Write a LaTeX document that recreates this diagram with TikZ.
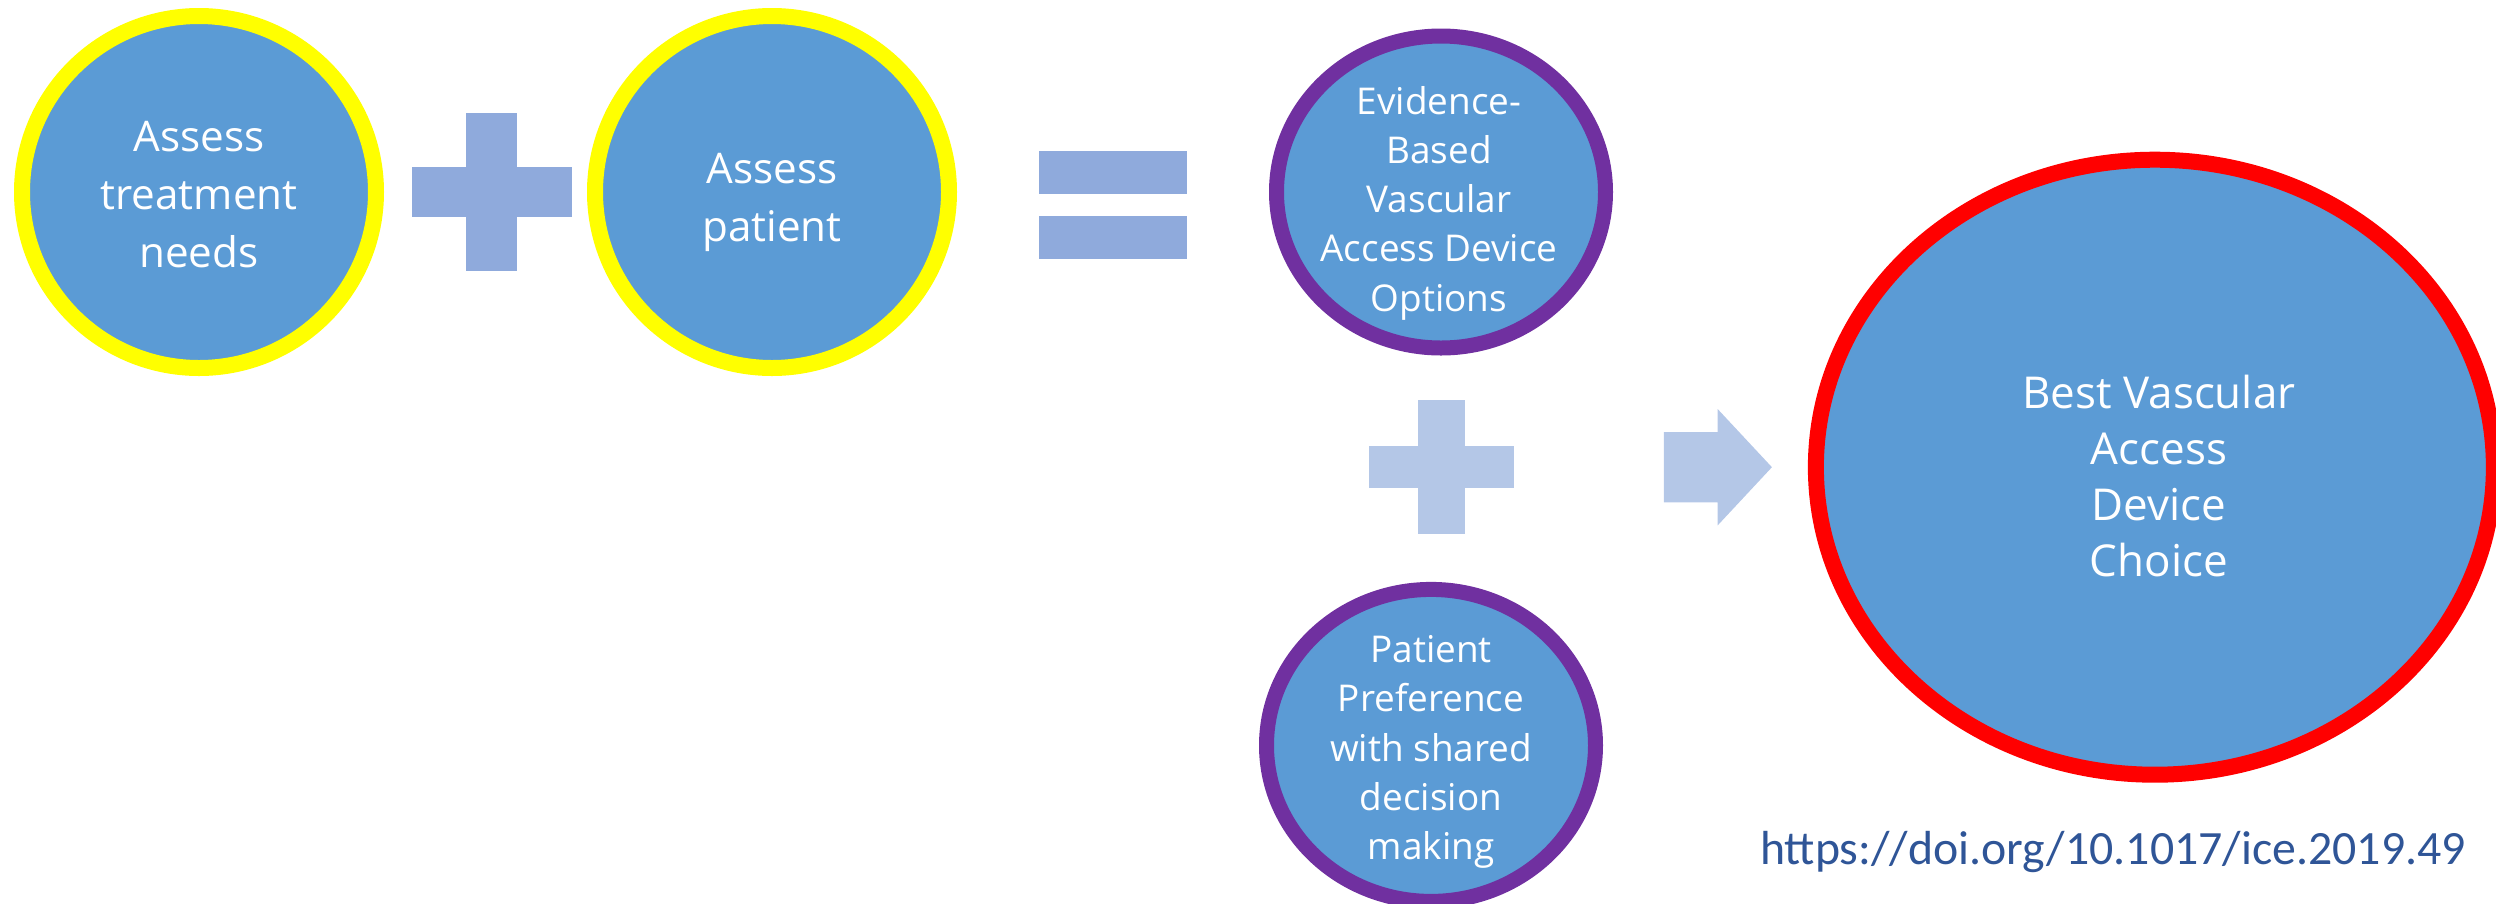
\documentclass[tikz,border=0pt]{standalone}
\usepackage{fontspec}
\setmainfont{Open Sans}
\newfontfamily\doifont{Carlito}
\usepackage{xcolor}
\usepackage{tikz}
\usetikzlibrary{shapes, positioning}
\definecolor{bubbleblue}{HTML}{5B9BD5}
\definecolor{ringyellow}{HTML}{FFFF00}
\definecolor{ringpurple}{HTML}{7030A0}
\definecolor{ringred}{HTML}{FF0000}
\definecolor{barblue}{HTML}{8FAADC}
\definecolor{paleblue}{HTML}{B4C7E7}
\definecolor{doiblue}{HTML}{2F5597}
\tikzset{
    bubble/.style={
        ellipse, draw, fill=bubbleblue, line width=0.16cm,
        minimum width=3.54cm, minimum height=3.52cm, inner sep=0pt
    },
    smallbubble/.style={
        bubble, draw=ringpurple, line width=0.15cm,
        minimum width=3.29cm, minimum height=3.12cm
    },
    bubbletext/.style={text=white, align=center, inner sep=0pt},
    bigtext/.style={bubbletext, font=\fontsize{12pt}{16.5pt}\selectfont},
    smalltext/.style={bubbletext, font=\fontsize{10.5pt}{14pt}\selectfont},
    bar/.style={rectangle, fill=barblue, inner sep=0pt},
    palebar/.style={bar, fill=paleblue},
    pointer/.style={
        single arrow, fill=paleblue, inner xsep=0pt, inner ysep=0.345cm,
        single arrow head extend=0.23cm, single arrow tip angle=94,
        minimum height=1.08cm
    },
    doi/.style={text=doiblue, inner sep=0pt, font=\doifont\fontsize{13.6pt}{16pt}\selectfont}
}

\begin{document}
\begin{tikzpicture}
        \useasboundingbox (0,0) rectangle (24.96,-9.03);

        % Assessment step
        \node [bubble, draw=ringyellow] (needs) at (1.99,-1.92) {};
        \node [bar, minimum width=1.60cm, minimum height=0.50cm, right=0.27cm of needs] (plusA-h) {};
        \node [bar, minimum width=0.51cm, minimum height=1.58cm] (plusA-v) at (plusA-h) {};
        \node [bubble, draw=ringyellow, right=2.03cm of needs] (patient) {};
        \node [bar, minimum width=1.48cm, minimum height=0.43cm, right=0.81cm of patient, yshift=0.2cm] (eqTop) {};
        \node [bar, minimum width=1.48cm, minimum height=0.43cm, below=0.21cm of eqTop] (eqBot) {};

        % Options and preference
        \node [smallbubble, right=3.12cm of patient] (evid) {};
        \node [palebar, minimum width=0.47cm, minimum height=1.34cm, below=0.44cm of evid] (plusB-v) {};
        \node [palebar, minimum width=1.45cm, minimum height=0.42cm] (plusB-h) at (plusB-v) {};
        \node [smallbubble, below=0.47cm of plusB-v, xshift=-0.1cm] (pref) {};

        % Result
        \node [pointer, right=1.49cm of plusB-h] (go) {};
        \node [bubble, draw=ringred, minimum width=6.78cm, minimum height=6.15cm, right=0.35cm of go] (choice) {};

        % Texts
        \node [bigtext, yshift=-0.025cm] (needs-txt) at (needs) {Assess\\treatment\\needs};
        \node [bigtext, yshift=-0.10cm] (patient-txt) at (patient) {Assess\\patient};
        \node [smalltext, yshift=-0.11cm, xshift=-0.02cm] (evid-txt) at (evid) {Evidence-\\Based\\Vascular\\Access Device\\Options};
        \node [smalltext, yshift=-0.065cm] (pref-txt) at (pref) {Patient\\Preference\\with shared\\decision\\making};
        \node [bubbletext, font=\fontsize{12.5pt}{15.9pt}\selectfont, yshift=-0.09cm, xshift=0.04cm] (choice-txt) at (choice) {Best Vascular\\Access\\Device\\Choice};
        \node [doi, anchor=base] (doi-txt) at (21.13,-8.64) {https://doi.org/10.1017/ice.2019.49};

    \end{tikzpicture}
\end{document}
